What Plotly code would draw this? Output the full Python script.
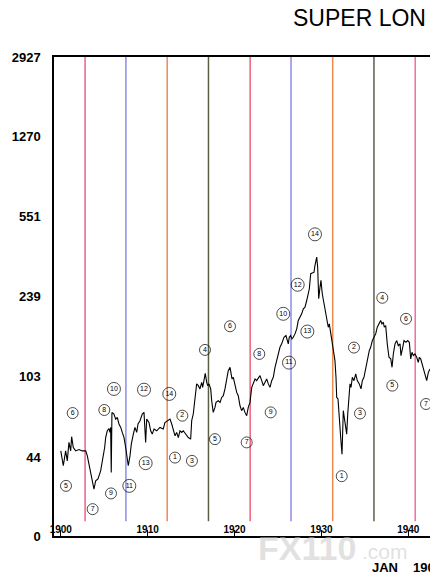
import math
import plotly.graph_objects as go

# ---- price series (year, index value) ----
years = [1900.0, 1900.29, 1900.56, 1900.75, 1900.94, 1901.14, 1901.25, 1901.44, 1901.72, 1902.1,
         1902.47, 1902.87, 1903.05, 1903.36, 1903.63, 1903.82, 1904.02, 1904.28, 1904.59, 1904.89,
         1905.05, 1905.17, 1905.35, 1905.55, 1905.66, 1905.74, 1905.81, 1905.89, 1906.12, 1906.32,
         1906.5, 1906.7, 1906.9, 1907.08, 1907.28, 1907.47, 1907.66, 1907.77, 1907.97, 1908.12,
         1908.35, 1908.54, 1908.74, 1908.89, 1909.12, 1909.38, 1909.58, 1909.69, 1909.77, 1909.89,
         1910.15, 1910.35, 1910.53, 1910.73, 1911.04, 1911.42, 1911.8, 1911.99, 1912.37, 1912.57,
         1912.77, 1912.95, 1913.15, 1913.34, 1913.53, 1913.72, 1913.92, 1914.1, 1914.41, 1914.68,
         1914.95, 1915.07, 1915.25, 1915.45, 1915.64, 1915.83, 1916.02, 1916.22, 1916.33, 1916.48,
         1916.63, 1916.8, 1916.91, 1917.06, 1917.26, 1917.37, 1917.55, 1917.75, 1917.87, 1918.13,
         1918.33, 1918.52, 1918.71, 1918.9, 1919.1, 1919.28, 1919.48, 1919.59, 1919.71, 1919.86,
         1920.05, 1920.25, 1920.43, 1920.63, 1920.82, 1921.01, 1921.2, 1921.4, 1921.58, 1921.78,
         1921.98, 1922.16, 1922.36, 1922.55, 1922.74, 1922.93, 1923.13, 1923.31, 1923.51, 1923.7,
         1923.89, 1924.08, 1924.28, 1924.46, 1924.66, 1924.85, 1925.04, 1925.23, 1925.43, 1925.54,
         1925.69, 1925.92, 1926.07, 1926.19, 1926.3, 1926.46, 1926.61, 1926.76, 1926.96, 1927.16,
         1927.34, 1927.54, 1927.73, 1927.92, 1928.11, 1928.31, 1928.49, 1928.61, 1928.77, 1929.0,
         1929.15, 1929.26, 1929.38, 1929.46, 1929.57, 1929.69, 1929.84, 1929.95, 1930.1, 1930.3,
         1930.45, 1930.61, 1930.79, 1930.91, 1931.07, 1931.3, 1931.45, 1931.56, 1931.68, 1931.76,
         1931.91, 1932.06, 1932.22, 1932.37, 1932.45, 1932.52, 1932.63, 1932.75, 1932.91, 1933.03,
         1933.14, 1933.29, 1933.41, 1933.56, 1933.75, 1933.95, 1934.13, 1934.36, 1934.56, 1934.71,
         1934.9, 1935.13, 1935.28, 1935.51, 1935.67, 1935.86, 1936.05, 1936.25, 1936.43, 1936.63,
         1936.82, 1936.97, 1937.12, 1937.24, 1937.4, 1937.58, 1937.78, 1937.98, 1938.13, 1938.28,
         1938.47, 1938.67, 1938.85, 1939.05, 1939.16, 1939.36, 1939.51, 1939.74, 1939.93, 1940.12,
         1940.28, 1940.43, 1940.58, 1940.77, 1940.97, 1941.15, 1941.27, 1941.43, 1941.58, 1941.73,
         1941.93, 1942.12, 1942.31, 1942.5]
values = [47.3, 40.5, 47.3, 42.6, 51.7, 47.3, 54.9, 49.0, 47.3, 48.0,
          47.3, 47.3, 45.0, 38.4, 34.6, 31.7, 34.6, 35.3, 38.4, 44.1,
          49.0, 54.4, 58.4, 59.7, 57.4, 60.5, 37.7, 70.8, 69.6, 66.0,
          67.2, 62.7, 60.5, 57.4, 54.4, 49.0, 42.6, 40.5, 45.0, 50.8,
          56.4, 60.5, 57.4, 62.7, 64.9, 69.6, 70.8, 59.5, 51.7, 66.0,
          63.7, 58.4, 56.4, 59.5, 58.4, 60.5, 59.5, 63.7, 64.9, 66.0,
          62.7, 58.4, 55.4, 57.4, 54.4, 58.4, 57.4, 58.4, 56.4, 54.4,
          53.5, 64.9, 69.6, 82.8, 95.4, 93.7, 90.5, 97.0, 92.0, 98.7,
          106.6, 97.0, 93.7, 95.4, 90.5, 80.0, 70.8, 74.6, 78.6, 80.0,
          78.6, 82.8, 84.3, 90.5, 102.2, 109.6, 113.5, 107.7, 100.5, 102.2,
          93.7, 87.3, 84.3, 75.9, 72.1, 74.6, 70.8, 68.4, 74.6, 78.6,
          92.0, 95.4, 100.5, 98.7, 102.2, 104.0, 98.7, 93.7, 97.0, 100.5,
          95.4, 92.0, 98.7, 102.2, 113.5, 121.8, 130.6, 140.0, 145.1, 150.2,
          155.5, 158.3, 150.2, 145.1, 155.5, 158.3, 152.9, 155.5, 161.1, 169.8,
          185.3, 191.8, 198.8, 209.5, 213.0, 228.5, 245.2, 258.4, 302.5, 305.7,
          307.6, 330.0, 347.8, 360.0, 324.2, 232.7, 262.8, 282.0, 245.2, 220.8,
          213.0, 191.8, 172.7, 179.0, 163.9, 140.0, 135.2, 121.8, 102.2, 82.8,
          81.5, 69.6, 54.4, 45.7, 60.5, 72.1, 67.2, 60.5, 56.4, 69.6,
          82.8, 95.4, 92.0, 102.2, 98.7, 105.9, 98.7, 95.4, 90.5, 98.7,
          102.2, 113.5, 126.1, 135.2, 140.0, 150.2, 155.5, 161.1, 172.7, 179.0,
          185.3, 179.0, 182.0, 172.7, 175.8, 145.1, 126.1, 124.0, 113.5, 130.6,
          145.1, 150.2, 142.5, 145.1, 128.3, 140.0, 150.2, 147.5, 150.2, 147.5,
          124.0, 132.9, 128.3, 130.6, 126.1, 119.6, 126.1, 124.0, 117.6, 111.6,
          105.9, 98.7, 107.7, 111.6]

# ---- cycle marker lines ----
cycle_years = [1902.8, 1907.5, 1912.25, 1917.0, 1921.8, 1926.5, 1931.3, 1936.05, 1940.8]
cycle_colors = ["#f0608c", "#8c8ce6", "#f08a50", "#5e5e44",
                "#f0607c", "#8c8ce6", "#f08a50", "#5e5e44", "#f0709a"]

# ---- circled wave labels ----
label_years = [1901.37, 1900.6, 1905.01, 1903.67, 1905.78, 1906.12, 1907.89, 1909.58, 1909.77, 1912.49,
               1913.99, 1913.15, 1915.1, 1916.6, 1917.75, 1919.48, 1921.4, 1922.85, 1924.16, 1925.61,
               1926.27, 1927.27, 1928.38, 1929.26, 1932.34, 1933.75, 1934.44, 1937.01, 1938.16, 1939.74,
               1942.04]
label_values = [70.3, 32.8, 72.6, 25.7, 30.3, 90.5, 32.8, 89.8, 41.6, 85.9,
                68.4, 44.1, 42.6, 136.2, 53.5, 174.5, 51.7, 130.6, 70.8, 198.8,
                119.2, 269.5, 165.1, 456.9, 36.3, 139.6, 70.0, 235.1, 93.7, 188.6,
                77.3]
label_texts = ["6", "5", "8", "7", "9", "10", "11", "12", "13", "14",
               "2", "1", "3", "4", "5", "6", "7", "8", "9", "10",
               "11", "12", "13", "14", "1", "2", "3", "4", "5", "6",
               "7"]

# ---- axis ticks ----
x_tick_vals = [1900, 1910, 1920, 1930, 1940]
x_tick_text = ["1900", "1910", "1920", "1930", "1940"]
y_tick_vals = [19.4, 44, 103, 239, 551, 1270, 2927]
y_tick_text = ["0", "44", "103", "239", "551", "1270", "2927"]

fig = go.Figure()

for yr, col in zip(cycle_years, cycle_colors):
    fig.add_shape(type="line", xref="x", yref="paper", x0=yr, x1=yr, y0=0.031, y1=1,
                  line=dict(color=col, width=1.5), layer="below")

fig.add_trace(go.Scatter(x=years, y=values, mode="lines",
                         line=dict(color="black", width=1.1), hoverinfo="skip"))

fig.add_trace(go.Scatter(
    x=label_years, y=label_values, mode="markers+text", text=label_texts,
    textposition="middle center",
    textfont=dict(family="Liberation Sans", size=7, color="black"),
    marker=dict(symbol="circle-open", color="black",
                size=[13 if len(t) > 1 else 11 for t in label_texts],
                line=dict(width=1, color="black")),
    hoverinfo="skip"))

fig.update_layout(
    width=430, height=583,
    margin=dict(l=54, r=0, t=57, b=47, autoexpand=False),
    paper_bgcolor="white", plot_bgcolor="white",
    showlegend=False,
    xaxis=dict(range=[1899.22, 1942.5], showgrid=False, zeroline=False, automargin=False,
               showline=True, linecolor="black", linewidth=1.5, mirror=True,
               tickvals=x_tick_vals, ticktext=x_tick_text,
               ticks="inside", ticklen=6, tickwidth=1, tickcolor="black",
               ticklabelposition="inside", ticklabeloverflow="allow",
               ticklabelstandoff=-6,
               tickfont=dict(family="Liberation Sans", size=10, color="black", weight="bold")),
    yaxis=dict(type="log", range=[math.log10(19.4), math.log10(2927)], automargin=False,
               showgrid=False, zeroline=False, showline=True, linecolor="black",
               linewidth=1.5, tickvals=y_tick_vals, ticktext=y_tick_text,
               ticks="", ticklabelstandoff=9,
               tickfont=dict(family="Liberation Sans", size=13, color="black", weight="bold")),
)

fig.add_annotation(text="SUPER LON", xref="paper", yref="paper",
                   x=(428 - 54) / 376, y=(536 - 18) / 479, xanchor="right", yanchor="middle",
                   showarrow=False,
                   font=dict(family="Liberation Sans", size=23, color="black"))
fig.add_annotation(text="JAN", xref="paper", yref="paper",
                   x=(384.5 - 54) / 376, y=(536 - 567) / 479, xanchor="center", yanchor="middle",
                   showarrow=False,
                   font=dict(family="Liberation Sans", size=13, color="black", weight="bold"))
fig.add_annotation(text="190", xref="paper", yref="paper",
                   x=(411 - 54) / 376, y=(536 - 567) / 479, xanchor="left", yanchor="middle",
                   showarrow=False,
                   font=dict(family="Liberation Sans", size=13, color="black", weight="bold"))
fig.add_annotation(text="FX110", xref="paper", yref="paper",
                   x=(358 - 54) / 376, y=(536 - 548) / 479, xanchor="right", yanchor="middle",
                   showarrow=False,
                   font=dict(family="Liberation Sans", size=34, color="rgba(200,200,200,0.55)",
                             weight="bold"))
fig.add_annotation(text=".com", xref="paper", yref="paper",
                   x=(360 - 54) / 376, y=(536 - 551) / 479, xanchor="left", yanchor="middle",
                   showarrow=False,
                   font=dict(family="Liberation Sans", size=21, color="rgba(200,200,200,0.55)"))

fig.write_html("out.html", config={"displayModeBar": False},
               post_script="document.body.style.margin='0px';")
